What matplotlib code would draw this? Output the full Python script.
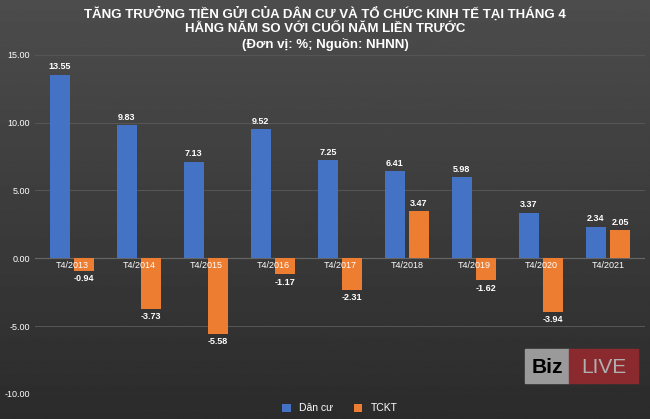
import numpy as np
import matplotlib.pyplot as plt
from matplotlib.patches import Rectangle

plt.rcParams['font.family'] = 'Liberation Sans'

years = ['T4/2013', 'T4/2014', 'T4/2015', 'T4/2016', 'T4/2017',
         'T4/2018', 'T4/2019', 'T4/2020', 'T4/2021']
dan_cu = [13.55, 9.83, 7.13, 9.52, 7.25, 6.41, 5.98, 3.37, 2.34]
tckt = [-0.94, -3.73, -5.58, -1.17, -2.31, 3.47, -1.62, -3.94, 2.05]

fig = plt.figure(figsize=(6.5, 4.19), dpi=100)
# gradient background
bg = fig.add_axes([0, 0, 1, 1], zorder=-10)
grad = np.linspace(0.30, 0.17, 256).reshape(-1, 1)
bg.imshow(grad, cmap='gray', vmin=0, vmax=1, aspect='auto', extent=[0, 1, 0, 1])
bg.axis('off')

ax = fig.add_axes([0.054, 0.06, 0.938, 0.809])
ax.patch.set_alpha(0)
x = np.arange(len(years))
w = 0.31
gap = 0.025
ax.bar(x - w / 2 - gap, dan_cu, w, color='#4472C4', label='Dân cư', zorder=3)
ax.bar(x + w / 2 + gap, tckt, w, color='#ED7D31', label='TCKT', zorder=3)
for xi, v in zip(x, dan_cu):
    ax.text(xi - w / 2 - gap, v + 0.25, f'{v:.2f}', ha='center', va='bottom',
            color='white', fontsize=6.5, fontweight='bold')
for xi, v in zip(x, tckt):
    ax.text(xi + w / 2 + gap, v + (0.25 if v > 0 else -0.25), f'{v:.2f}', ha='center',
            va='bottom' if v > 0 else 'top', color='white', fontsize=6.5, fontweight='bold')
for xi, lab in zip(x, years):
    ax.text(xi, -0.2, lab, ha='center', va='top', color='white', fontsize=6.5, zorder=4)

ax.set_ylim(-10, 15)
ax.set_xlim(-0.55, len(years) - 0.45)
ax.set_yticks(np.arange(-10, 16, 5))
ax.set_yticklabels([f'{t:.2f}' for t in np.arange(-10, 16, 5)])
ax.tick_params(axis='y', colors='white', labelsize=6.5, length=0)
ax.set_xticks([])
ax.grid(axis='y', color='#555555', linewidth=0.8, zorder=0)
ax.axhline(0, color='#666666', linewidth=0.8, zorder=2)
for s in ax.spines.values():
    s.set_visible(False)

ax.legend(loc='upper center', bbox_to_anchor=(0.5, -0.0), ncol=2, frameon=False,
          fontsize=7.5, labelcolor='white', handlelength=0.8, handleheight=0.8)

fig.text(0.5, 0.985, 'TĂNG TRƯỞNG TIỀN GỬI CỦA DÂN CƯ VÀ TỔ CHỨC KINH TẾ TẠI THÁNG 4\n'
         'HẰNG NĂM SO VỚI CUỐI NĂM LIỀN TRƯỚC\n(Đơn vị: %; Nguồn: NHNN)',
         ha='center', va='top', color='white', fontsize=9.5, fontweight='bold',
         linespacing=1.3)

# BizLIVE logo
fig.patches.append(Rectangle((0.808, 0.086), 0.068, 0.081, transform=fig.transFigure,
                             color='#9a9a9a', zorder=5))
fig.patches.append(Rectangle((0.876, 0.086), 0.106, 0.081, transform=fig.transFigure,
                             color='#8b2a2e', zorder=5))
fig.text(0.842, 0.124, 'Biz', ha='center', va='center', fontsize=15, color='black',
         fontweight='bold', zorder=6)
fig.text(0.929, 0.124, 'LIVE', ha='center', va='center', fontsize=15, color='#b0b0b0',
         zorder=6)

fig.savefig('out.png', dpi=100)
